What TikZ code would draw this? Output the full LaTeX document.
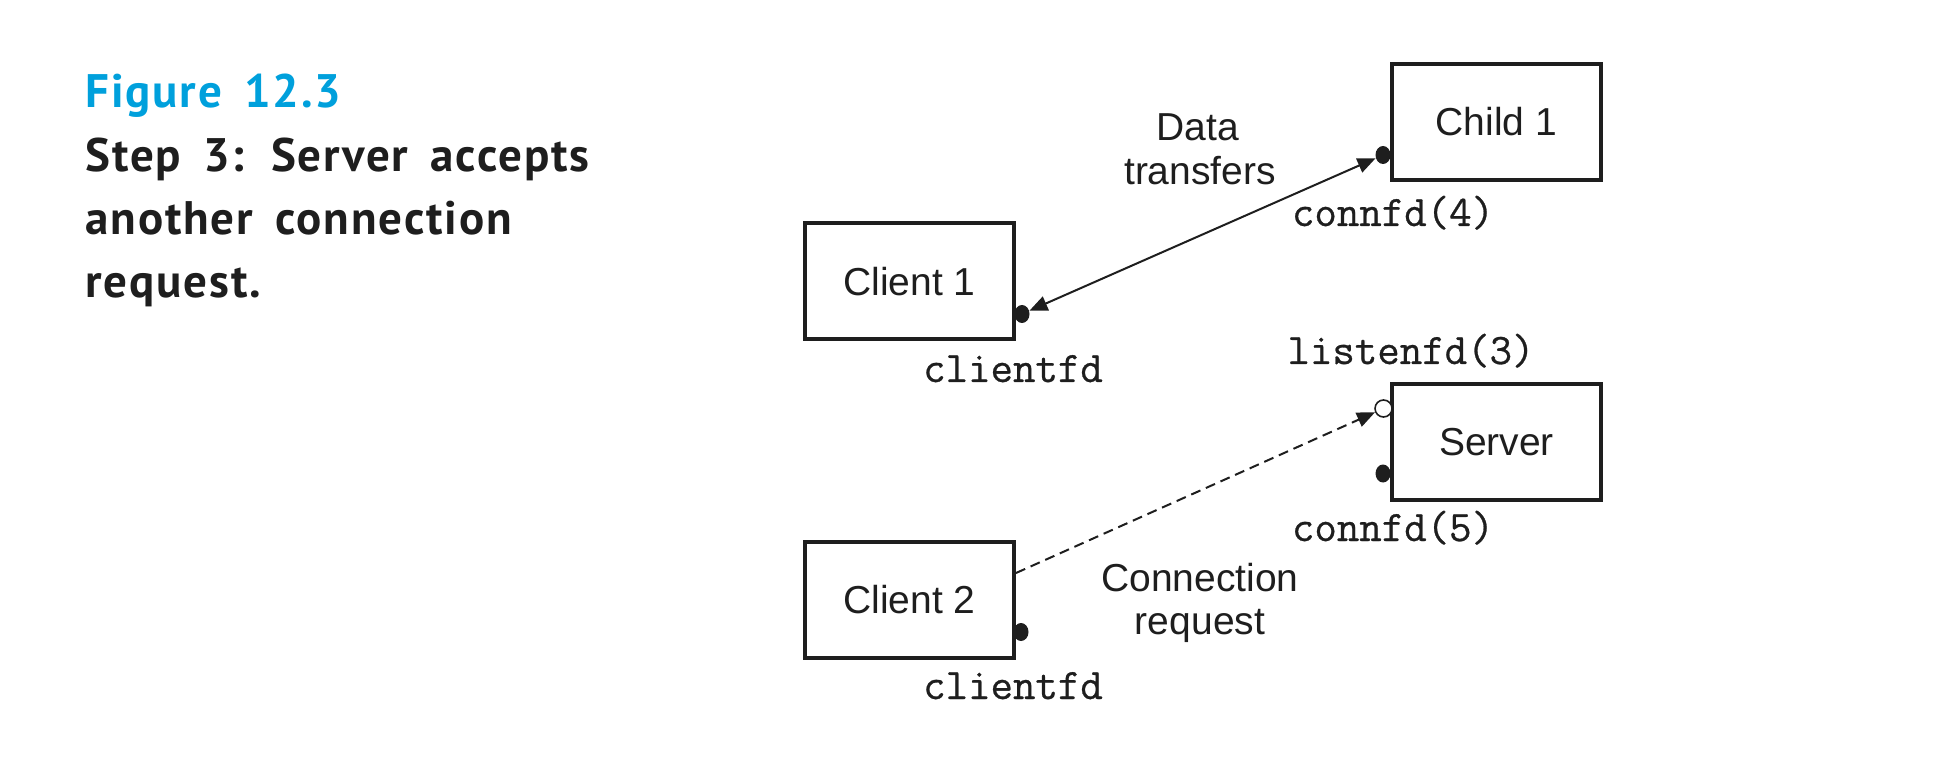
\documentclass[tikz,border=0pt]{standalone}
\usepackage{fontspec}
\setmainfont{Liberation Sans}
\newfontfamily\titlefont[LetterSpace=4,WordSpace=1.6]{PT Sans}
\newfontfamily\fdfont[FakeBold=0.6]{Latin Modern Mono}
\usetikzlibrary{arrows.meta,calc,shapes.geometric}
\definecolor{figblue}{RGB}{0,160,220}
\definecolor{ink}{RGB}{30,30,30}
\tikzset{
  procbox/.style={draw=ink, line width=2pt, minimum width=104.5pt, minimum height=58pt,
    inner sep=0pt, font=\fontsize{19.5pt}{22pt}\selectfont, text=ink},
  fddot/.style={ellipse, fill=ink, inner sep=0pt, minimum width=7.5pt, minimum height=9pt},
  opendot/.style={circle, draw=ink, fill=white, line width=0.8pt, inner sep=0pt, minimum size=8.5pt},
  fdlabel/.style={font=\fdfont\fontsize{21.8pt}{24pt}\selectfont, text=ink, anchor=base, inner sep=0pt},
  arrlabel/.style={font=\fontsize{19.5pt}{22pt}\selectfont, text=ink, anchor=base, inner sep=0pt},
  titleline/.style={anchor=base west, inner sep=0pt, font=\titlefont\bfseries\fontsize{23.5pt}{31.5pt}\selectfont},
  fdtip/.tip={Triangle[length=9pt,width=7.5pt]},
  link/.style={line width=1pt, draw=ink},
}
\begin{document}
\begin{tikzpicture}[x=0.5pt,y=-0.5pt]
\useasboundingbox (0,0) rectangle (1946,758);
% caption
\node[titleline, text=figblue] (fig) at (85,108) {Figure 12.3};
\node[titleline, text=ink] (cap1) at (85,172) {Step 3: Server accepts};
\node[titleline, text=ink] (cap2) at (85,235) {another connection};
\node[titleline, text=ink] (cap3) at (85,298) {request.};
% boxes
\node[procbox] (child1) at (1496.5,122) {Child 1};
\node[procbox] (client1) at (909.5,281.5) {Client 1};
\node[procbox] (server) at (1496.5,442) {Server};
\node[procbox] (client2) at (909.5,599.5) {Client 2};
% descriptors
\node[fddot] (c1dot) at (1022,314) {};
\node[fddot] (childdot) at (1383,155) {};
\node[opendot] (listendot) at (1383.5,408.5) {};
\node[fddot] (servdot) at (1383,473.5) {};
\node[fddot] (c2dot) at (1021,632) {};
% labels
\node[fdlabel] (lc1) at (1013,382) {clientfd};
\node[fdlabel] (lch) at (1393,226) {connfd(4)};
\node[fdlabel] (lls) at (1411,364) {listenfd(3)};
\node[fdlabel] (lsv) at (1393,541) {connfd(5)};
\node[fdlabel] (lc2) at (1013,699) {clientfd};
\node[arrlabel] (dt1) at (1198,141) {Data};
\node[arrlabel] (dt2) at (1200,185) {transfers};
\node[arrlabel] (cr1) at (1200,591) {Connection};
\node[arrlabel] (cr2) at (1200,634) {request};
% connectors
\draw[link, fdtip-fdtip] (c1dot) -- (childdot);
\coordinate (c2out) at ($(client2.east)+(0,-26.5)$);
\draw[link, dash pattern=on 5pt off 3pt, -fdtip] (c2out) -- (listendot);
\end{tikzpicture}
\end{document}
